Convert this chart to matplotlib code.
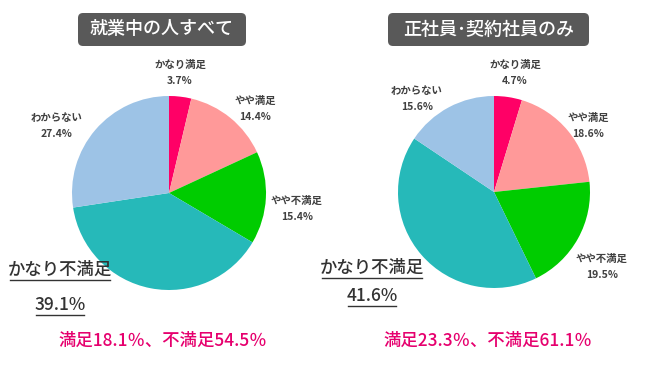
import matplotlib.pyplot as plt
from matplotlib.patches import FancyBboxPatch

plt.rcParams['font.family'] = ['Noto Sans CJK JP', 'DejaVu Sans']

# データ
categories = ["かなり満足", "やや満足", "やや不満足", "かなり不満足", "わからない"]
all_workers = [3.7, 14.4, 15.4, 39.1, 27.4]
regular_only = [4.7, 18.6, 19.5, 41.6, 15.6]
titles = ["就業中の人すべて", "正社員･契約社員のみ"]
summaries = ["満足18.1％、不満足54.5％", "満足23.3％、不満足61.1％"]

colors = ["#ff0066", "#ff9999", "#00cc00", "#26b9b9", "#9dc3e6"]

W, H = 650, 366
fig = plt.figure(figsize=(6.5, 3.66), dpi=100)
ax = fig.add_axes([0, 0, 1, 1])

# レイアウト (ピクセル座標, 上からのy)
centers = [(169, 193), (494, 192)]
radii = [97, 96]
title_boxes = [(78, 13, 168, 33), (388, 13, 201, 33)]
label_pos = [
    [(180, 73), (255, 109), (297, 209), None, (57, 126)],
    [(515, 73), (588, 126), (602, 267), None, (417, 99)],
]
big_pos = [(60, 270, 305), (372, 268, 296)]
summary_pos = [(163, 341), (488, 341)]


def fy(y):
    return H - y


for i, vals in enumerate([all_workers, regular_only]):
    cx, cy = centers[i]
    ax.pie(vals, colors=colors, center=(cx, fy(cy)), radius=radii[i],
           startangle=90, counterclock=False,
           wedgeprops=dict(linewidth=0))

    # タイトル
    bx, by, bw, bh = title_boxes[i]
    box = FancyBboxPatch((bx, fy(by + bh)), bw, bh,
                         boxstyle="round,pad=0,rounding_size=5",
                         facecolor="#595959", edgecolor="none")
    ax.add_patch(box)
    ax.text(bx + bw / 2, fy(by + bh / 2), titles[i], color="white",
            fontsize=13, fontweight="medium", ha="center", va="center")

    # ラベル
    for j, pos in enumerate(label_pos[i]):
        if pos is None:
            continue
        ax.text(pos[0], fy(pos[1]), f"{categories[j]}\n{vals[j]}%",
                fontsize=7.5, fontweight="bold", color="#404040",
                ha="center", va="center", linespacing=1.8)

    # かなり不満足 (大きいラベル、下線付き)
    lx, ly1, ly2 = big_pos[i]
    ax.text(lx, fy(ly1), categories[3], fontsize=12.5, fontweight="medium",
            color="#333333", ha="center", va="center")
    ax.text(lx, fy(ly2), f"{vals[3]}%", fontsize=12.5, fontweight="medium",
            color="#333333", ha="center", va="center")
    ax.plot([lx - 50, lx + 50], [fy(ly1 + 10), fy(ly1 + 10)],
            color="#333333", lw=1)
    ax.plot([lx - 24, lx + 24], [fy(ly2 + 10), fy(ly2 + 10)],
            color="#333333", lw=1)

    sx, sy = summary_pos[i]
    ax.text(sx, fy(sy), summaries[i], fontsize=12.5, fontweight="medium",
            color="#e6006e", ha="center", va="center")

# pie() がリミットを変えるので最後に設定
ax.set_xlim(0, W)
ax.set_ylim(0, H)
ax.set_aspect('equal')
ax.axis('off')

fig.savefig("out.png", dpi=100)
